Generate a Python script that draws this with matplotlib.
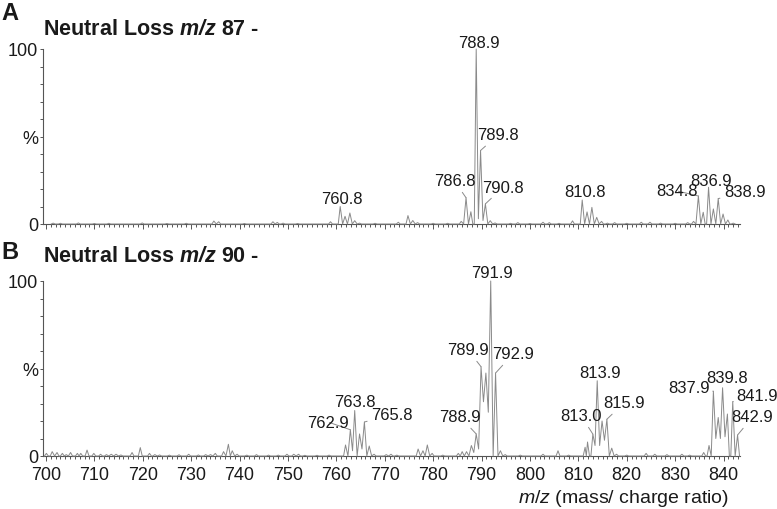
import matplotlib
matplotlib.use("Agg")
import matplotlib.pyplot as plt
from matplotlib.ticker import MultipleLocator

plt.rcParams['font.family'] = ['Liberation Sans', 'DejaVu Sans']
plt.rcParams['mathtext.fontset'] = 'custom'
plt.rcParams['mathtext.rm'] = 'Liberation Sans'
plt.rcParams['mathtext.it'] = 'Liberation Sans:italic'
plt.rcParams['mathtext.bf'] = 'Liberation Sans:bold'
plt.rcParams['mathtext.bfit'] = 'Liberation Sans:bold:italic'
narrow = ['Liberation Sans Narrow', 'Liberation Sans', 'DejaVu Sans']

# panel A : neutral loss m/z 87
a_mz = [701.5, 703, 706.7, 710, 713, 719.9, 725, 729, 734.7, 735.7, 741, 746.9, 747.8, 749, 752, 758.8,
        760.8, 761.8, 762.8, 763.8, 764.8,
        768, 772.8, 774.8, 775.8, 776.8, 780, 783, 785.8,
        786.8, 787.8, 788.9, 789.8, 790.8, 791.8, 792.8,
        796, 797.5, 800, 802.7, 804, 806, 808.8,
        810.8, 811.8, 812.8, 813.8, 814.8, 816,
        817.5, 820, 823, 824.8, 827, 830, 832.6, 833.8,
        834.8, 835.8, 836.9, 837.9, 838.9, 839.9, 840.9, 842]
a_int = [0.5, 0.4, 0.6, 0.3, 0.4, 0.6, 0.3, 0.4, 1.7, 1.3, 0.3, 1.3, 0.9, 0.5, 0.3, 1.3,
         10, 4.4, 6.3, 1.9, 0.5,
         0.4, 1, 4.8, 2, 0.8, 0.4, 0.4, 1.5,
         15, 7, 100, 42, 11.5, 1.9, 0.6,
         0.4, 0.8, 0.3, 1, 0.8, 0.4, 1.8,
         13.7, 6.9, 9.5, 3.8, 1.5, 0.5,
         0.8, 0.4, 1, 1, 0.5, 0.4, 0.8, 1.5,
         16, 6.7, 21, 8.6, 14.5, 5.7, 2.3, 0.5]
a_valleys = {788.9: 3, 789.8: 2}
a_labels = [788.9, 789.8, 786.8, 790.8, 760.8, 810.8, 834.8, 836.9, 838.9]
a_lbl_pos = [(789.5, 104), (793.4, 50.9), (784.4, 24.6), (794.5, 21.1), (761.2, 14.3),
             (811.4, 18.3), (830.4, 18.9), (837.4, 25.1), (844.4, 18.3)]
a_leader = [False, True, True, True, False, False, True, False, True]

# panel B : neutral loss m/z 90
b_mz = [700.1, 701.3, 702.3, 703.4, 704.2, 705.1, 706.5, 707.2, 708.5, 709.9, 711.3, 712.5, 713.5, 714.5,
        715.5, 717.8, 719.5, 721.4, 722.5, 723.5, 725.5, 727.5, 729.5, 731.5, 733, 734, 735, 736.7,
        737.7, 738.5, 739.5, 741.5, 743.5, 746, 748, 749.8, 751.2, 752.2, 753.5, 756, 758.5,
        761.9, 762.9, 763.8, 764.8, 765.8, 766.8, 767.8, 770.3, 771.3, 772.5,
        776.9, 777.9, 778.8, 779.8, 782, 785.2, 786, 786.9, 787.9, 788.9, 789.9, 790.9, 791.9, 792.9,
        793.9, 794.9, 798, 802.7, 805.8, 808,
        811.4, 811.9, 813.0, 813.9, 814.9, 815.9, 816.9, 817.9, 820, 824, 825.8, 828.3, 831.4, 833,
        835.9, 837.0, 837.9, 838.9, 839.8, 840.8, 841.9, 842.9]
b_int = [1.5, 2.5, 2, 1.5, 0.8, 2, 1.5, 1.5, 3.4, 1.5, 1, 0.8, 1, 1,
         0.6, 2, 4.8, 1.5, 0.8, 0.6, 0.5, 0.7, 1, 0.6, 0.8, 0.8, 1.5, 2.5,
         6.7, 3, 1, 0.5, 0.8, 0.5, 0.5, 1, 1, 1, 0.4, 0.4, 0.5,
         6.3, 15, 26, 12.6, 19.4, 5.7, 1, 0.8, 1, 0.5,
         4, 3, 6.3, 1.5, 0.5, 1.5, 2.5, 2.5, 6, 12.6, 51, 47.4, 100, 47.4,
         3, 0.8, 0.5, 1, 3, 0.5,
         5, 8, 12.5, 43, 20, 21, 4.5, 1, 0.5, 1.5, 1, 0.8, 1, 0.5,
         2, 6, 37, 22, 39, 24, 31, 12]
b_valleys = {787.9: 2, 788.9: 4, 789.9: 31, 790.9: 25, 762.9: 3, 764.8: 4,
             811.9: 4, 813.0: 6, 813.9: 6, 814.9: 9,
             837.9: 10, 838.9: 10, 839.8: 11, 840.8: 7}
b_labels = [791.9, 789.9, 792.9, 788.9, 763.8, 762.9, 765.8, 813.0, 813.9, 815.9,
            837.9, 839.8, 841.9, 842.9]
b_lbl_pos = [(792.2, 104.6), (787.2, 60.6), (796.5, 58.3), (785.6, 22.3), (763.9, 31.4),
             (758.3, 19.4), (771.5, 24), (810.6, 22.9), (814.5, 48), (819.4, 30.3),
             (832.9, 39.4), (840.7, 44.6), (846.9, 34.3), (846.0, 22.3)]
b_leader = [False, True, True, True, False, True, True, True, False, True,
            True, False, True, True]

W, H = 777, 510
line_c = '#8a8a8a'
axis_c = '#555555'
text_c = '#1a1a1a'


def profile(mz, inten, valleys, hw=0.4):
    xs, ys = [mz[0] - hw], [0]
    for i in range(len(mz)):
        xs.append(mz[i]); ys.append(inten[i])
        if i < len(mz) - 1:
            gap = mz[i + 1] - mz[i]
            if gap <= 2 * hw + 0.3:
                xs.append((mz[i] + mz[i + 1]) / 2); ys.append(valleys.get(mz[i], 0))
            else:
                xs += [mz[i] + hw, mz[i + 1] - hw]; ys += [0, 0]
    xs.append(mz[-1] + hw); ys.append(0)
    return xs, ys


def panel(rect, mz, inten, valleys, labels, lbl_pos, leader, show_x):
    ax = fig.add_axes(rect)
    xs, ys = profile(mz, inten, valleys)
    ax.plot(xs, ys, color=line_c, lw=0.7, clip_on=False, zorder=3)
    ax.set_xlim(699.4, 843.4)
    ax.set_ylim(0, 100)
    for s in ['top', 'right']:
        ax.spines[s].set_visible(False)
    for s in ['left', 'bottom']:
        ax.spines[s].set_color(axis_c)
        ax.spines[s].set_linewidth(0.8)
    ax.set_yticks([0, 50, 100])
    ax.set_yticklabels(['0', '%', '100'])
    ax.yaxis.set_minor_locator(MultipleLocator(10))
    ax.xaxis.set_major_locator(MultipleLocator(10))
    ax.xaxis.set_minor_locator(MultipleLocator(1))
    ax.tick_params(axis='both', which='both', color=axis_c, width=0.7,
                   labelsize=13, labelcolor=text_c)
    ax.tick_params(axis='y', which='major', length=2.5, pad=1)
    ax.tick_params(axis='y', which='minor', length=2.0)
    ax.tick_params(axis='x', which='major', length=3.5, pad=4)
    ax.tick_params(axis='x', which='minor', length=1.8)
    for t in ax.get_xticklabels() + ax.get_yticklabels():
        t.set_family(narrow)
    if not show_x:
        ax.tick_params(axis='x', labelbottom=False)
    for lbl, pos, ld in zip(labels, lbl_pos, leader):
        h = inten[mz.index(lbl)]
        arrow = dict(arrowstyle='-', color=line_c, lw=0.7, shrinkA=1, shrinkB=0) if ld else None
        ax.annotate(f"{lbl:.1f}", xy=(lbl, h), xytext=pos, textcoords='data',
                    ha='center', va='center', fontsize=12, family=narrow, color=text_c,
                    annotation_clip=False, arrowprops=arrow)
    return ax


fig = plt.figure(figsize=(W / 100, H / 100), dpi=100)

panel([43 / W, 1 - 225 / H, 697 / W, 175 / H], a_mz, a_int, a_valleys,
      a_labels, a_lbl_pos, a_leader, False)
panel([43 / W, 1 - 457 / H, 697 / W, 175 / H], b_mz, b_int, b_valleys,
      b_labels, b_lbl_pos, b_leader, True)

fig.text(1 / W, 1 - 20 / H, 'A', fontsize=17, fontweight='bold', color=text_c, va='baseline')
fig.text(43 / W, 1 - 35 / H, r'Neutral Loss $\mathbfit{m/z}$ 87 -', fontsize=15.5,
         fontweight='bold', color=text_c, va='baseline')
fig.text(1 / W, 1 - 259 / H, 'B', fontsize=17, fontweight='bold', color=text_c, va='baseline')
fig.text(43 / W, 1 - 262 / H, r'Neutral Loss $\mathbfit{m/z}$ 90 -', fontsize=15.5,
         fontweight='bold', color=text_c, va='baseline')
fig.text(518 / W, 1 - 503 / H, r'$\mathit{m/z}$ (mass/ charge ratio)', fontsize=14,
         color=text_c, va='baseline')

fig.savefig('out.png', dpi=100)
